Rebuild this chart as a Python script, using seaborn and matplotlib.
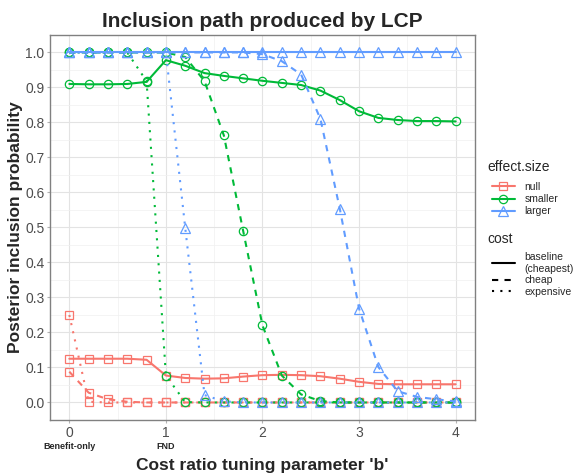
import numpy as np
import pandas as pd
import matplotlib
matplotlib.use("Agg")
import matplotlib.pyplot as plt
from matplotlib.lines import Line2D
from matplotlib.ticker import MultipleLocator
import seaborn as sns

# cost ratio tuning parameter
b = [0.0, 0.2, 0.4, 0.6, 0.8, 1.0, 1.2, 1.4, 1.6, 1.8, 2.0,
     2.2, 2.4, 2.6, 2.8, 3.0, 3.2, 3.4, 3.6, 3.8, 4.0]

# posterior inclusion probabilities
null_baseline = [0.125, 0.125, 0.125, 0.125, 0.122, 0.077, 0.070, 0.068, 0.069, 0.074, 0.078,
                 0.079, 0.078, 0.075, 0.068, 0.059, 0.053, 0.052, 0.052, 0.052, 0.052]
null_cheap = [0.088, 0.028, 0.009, 0.002, 0.0, 0.0, 0.0, 0.0, 0.0, 0.0, 0.0,
              0.0, 0.0, 0.0, 0.0, 0.0, 0.0, 0.0, 0.0, 0.0, 0.0]
null_expensive = [0.250, 0.002, 0.0, 0.0, 0.0, 0.0, 0.0, 0.0, 0.0, 0.0, 0.0,
                  0.0, 0.0, 0.0, 0.0, 0.0, 0.0, 0.0, 0.0, 0.0, 0.0]

smaller_baseline = [0.910, 0.909, 0.909, 0.910, 0.916, 0.978, 0.962, 0.941, 0.933, 0.926, 0.919,
                    0.913, 0.907, 0.891, 0.864, 0.832, 0.813, 0.807, 0.804, 0.804, 0.803]
smaller_cheap = [1.0, 1.0, 1.0, 1.0, 1.0, 1.0, 0.987, 0.918, 0.763, 0.490, 0.220,
                 0.077, 0.023, 0.004, 0.0, 0.0, 0.0, 0.0, 0.0, 0.0, 0.0]
smaller_expensive = [1.0, 1.0, 1.0, 1.0, 0.918, 0.077, 0.001, 0.0, 0.0, 0.0, 0.0,
                     0.0, 0.0, 0.0, 0.0, 0.0, 0.0, 0.0, 0.0, 0.0, 0.0]

larger_baseline = [1.0, 1.0, 1.0, 1.0, 1.0, 1.0, 1.0, 1.0, 1.0, 1.0, 1.0,
                   1.0, 1.0, 1.0, 1.0, 1.0, 1.0, 1.0, 1.0, 1.0, 1.0]
larger_cheap = [1.0, 1.0, 1.0, 1.0, 1.0, 1.0, 1.0, 1.0, 1.0, 1.0, 0.995,
                0.975, 0.937, 0.810, 0.554, 0.268, 0.101, 0.032, 0.016, 0.009, 0.003]
larger_expensive = [1.0, 1.0, 1.0, 1.0, 1.0, 1.0, 0.499, 0.021, 0.003, 0.0, 0.0,
                    0.0, 0.0, 0.0, 0.0, 0.0, 0.0, 0.0, 0.0, 0.0, 0.0]

effect_levels = ["null", "smaller", "larger"]
cost_levels = ["baseline", "cheap", "expensive"]
cost_labels = ["baseline\n(cheapest)", "cheap", "expensive"]

series = {
    ("null", "baseline"): null_baseline,
    ("null", "cheap"): null_cheap,
    ("null", "expensive"): null_expensive,
    ("smaller", "baseline"): smaller_baseline,
    ("smaller", "cheap"): smaller_cheap,
    ("smaller", "expensive"): smaller_expensive,
    ("larger", "baseline"): larger_baseline,
    ("larger", "cheap"): larger_cheap,
    ("larger", "expensive"): larger_expensive,
}

rows = []
for (eff, cost), vals in series.items():
    for xv, yv in zip(b, vals):
        rows.append({"b": xv, "prob": yv, "effect.size": eff, "cost": cost})
df = pd.DataFrame(rows)

colors = {"null": "#F8766D", "smaller": "#00BA38", "larger": "#619CFF"}
markers = {"null": "s", "smaller": "o", "larger": "^"}
msizes = {"null": 5.5, "smaller": 6, "larger": 6.5}
dash_map = {"baseline": "", "cheap": (3, 3), "expensive": (1, 3)}

sns.set_style("white")
plt.rcParams["font.family"] = ["Liberation Sans", "DejaVu Sans"]

fig = plt.figure(figsize=(5.74, 4.73), dpi=100)
ax = fig.add_axes([0.0871, 0.1121, 0.7404, 0.814])

for eff in effect_levels:
    sub = df[df["effect.size"] == eff]
    sns.lineplot(data=sub, x="b", y="prob", style="cost", style_order=cost_levels,
                 dashes=dash_map, color=colors[eff], marker=markers[eff],
                 markersize=msizes[eff], mfc="none", mec=colors[eff], mew=0.9,
                 linewidth=1.5, estimator=None, sort=False, legend=False, ax=ax)

ax.set_xlim(-0.2, 4.2)
ax.set_ylim(-0.05, 1.05)
ax.xaxis.set_major_locator(MultipleLocator(1))
ax.xaxis.set_minor_locator(MultipleLocator(0.5))
ax.yaxis.set_major_locator(MultipleLocator(0.1))
ax.yaxis.set_minor_locator(MultipleLocator(0.05))
ax.set_yticklabels([f"{v:.1f}" for v in ax.get_yticks()])
ax.grid(which="major", color="#E3E3E3", linewidth=0.8)
ax.grid(which="minor", color="#F0F0F0", linewidth=0.5)
ax.set_axisbelow(True)
for sp in ax.spines.values():
    sp.set_color("#808080")
    sp.set_linewidth(1.0)
ax.tick_params(which="major", length=2.5, width=0.8, color="#B3B3B3",
               labelsize=10, labelcolor="#4D4D4D", pad=1.5)
ax.tick_params(which="minor", length=0)
ax.tick_params(axis="x", which="major", bottom=True)
ax.tick_params(axis="y", which="major", left=True)

ax.set_xlabel("Cost ratio tuning parameter 'b'", fontsize=12.5, fontweight="bold")
ax.set_ylabel("Posterior inclusion probability", fontsize=12.5, fontweight="bold")
ax.xaxis.set_label_coords(0.5, -0.117)
ax.xaxis.label.set_va("center")
ax.yaxis.set_label_coords(-0.08, 0.5)
ax.yaxis.label.set_va("center")

fig.text(262.5 / 574, 1 - 21 / 473, "Inclusion path produced by LCP",
         fontsize=15, fontweight="bold", ha="center", va="center")

tr = ax.get_xaxis_transform()
ax.text(0, -0.068, "Benefit-only", transform=tr, fontsize=6.5, fontweight="bold",
        ha="center", va="center", clip_on=False)
ax.text(1, -0.068, "FND", transform=tr, fontsize=6.5, fontweight="bold",
        ha="center", va="center", clip_on=False)

# legend titles drawn as text so the gaps can follow the reference
fig.text(487 / 574, 1 - 167 / 473, "effect.size", fontsize=10, ha="left", va="center")
fig.text(487 / 574, 1 - 239 / 473, "cost", fontsize=10, ha="left", va="center")

eff_handles = [Line2D([], [], color=colors[e], marker=markers[e], mfc="none",
                      mec=colors[e], mew=0.9, markersize=msizes[e], linewidth=1.5)
               for e in effect_levels]
leg1 = fig.legend(eff_handles, effect_levels, loc="upper left",
                  bbox_to_anchor=(0.848, 0.626), frameon=False, fontsize=7.5,
                  borderpad=0, handlelength=2.2, handletextpad=0.9, labelspacing=0.2)

cost_handles = [Line2D([], [], color="black", linewidth=1.5, linestyle="-"),
                Line2D([], [], color="black", linewidth=1.5, dashes=(3, 3)),
                Line2D([], [], color="black", linewidth=1.5, dashes=(1, 3))]
leg2 = fig.legend(cost_handles, cost_labels, loc="upper left",
                  bbox_to_anchor=(0.848, 0.478), frameon=False, fontsize=7.5,
                  borderpad=0, handlelength=2.2, handletextpad=0.9, labelspacing=0.15)

fig.savefig("out.png", dpi=100)
